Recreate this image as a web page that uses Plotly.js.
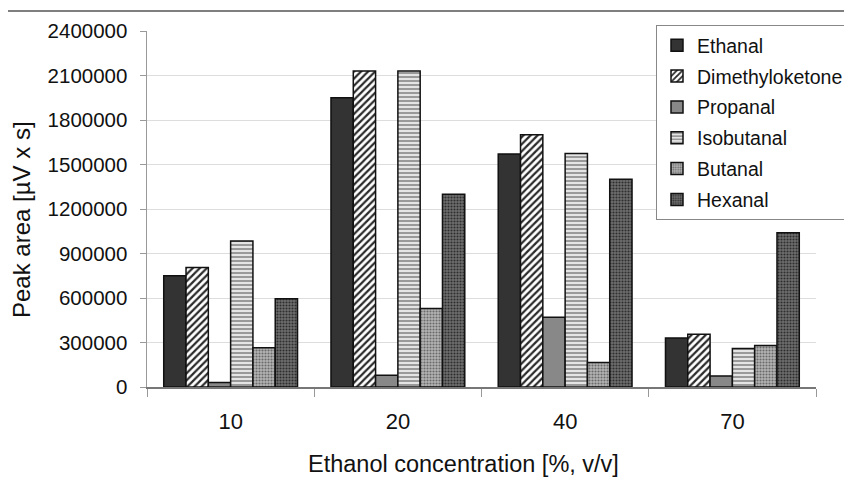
<!DOCTYPE html>
<html>
<head>
<meta charset="utf-8">
<script src="https://cdn.plot.ly/plotly-3.0.1.min.js"></script>
<style>html,body{margin:0;padding:0;background:#fff;}#chart{width:844px;height:479px;}</style>
</head>
<body>
<div id="chart"></div>
<script>
const categories = ["10", "20", "40", "70"];
const seriesNames = ["Ethanal", "Dimethyloketone", "Propanal", "Isobutanal", "Butanal", "Hexanal"];
const ethanal = [750000, 1950000, 1570000, 330000];
const dimethyloketone = [805000, 2130000, 1700000, 355000];
const propanal = [30000, 80000, 470000, 75000];
const isobutanal = [985000, 2130000, 1575000, 260000];
const butanal = [265000, 530000, 165000, 280000];
const hexanal = [595000, 1300000, 1400000, 1040000];
const yTickValues = [0, 300000, 600000, 900000, 1200000, 1500000, 1800000, 2100000, 2400000];
const xTitle = 'Ethanol concentration [%, v/v]';
const yTitle = 'Peak area [µV x s]';

const seriesValues = [ethanal, dimethyloketone, propanal, isobutanal, butanal, hexanal];
const styles = [
  {color: '#333333'},
  {color: '#ffffff', pattern: {shape: '/', fgcolor: '#2a2a2a', bgcolor: '#ffffff', size: 5, solidity: 0.45}},
  {color: '#888888'},
  {color: '#cccccc', pattern: {shape: '-', fgcolor: '#999999', bgcolor: '#e4e4e4', size: 4, solidity: 0.5}},
  {color: '#999999', pattern: {shape: '.', fgcolor: '#6a6a6a', bgcolor: '#b4b4b4', size: 3, solidity: 0.4}},
  {color: '#555555', pattern: {shape: '.', fgcolor: '#2e2e2e', bgcolor: '#6e6e6e', size: 3, solidity: 0.4}}
];

const traces = seriesNames.map((name, i) => {
  const m = {color: styles[i].color, line: {color: '#111111', width: 1.5}};
  if (styles[i].pattern) m.pattern = styles[i].pattern;
  return {type: 'bar', name: name, legendgroup: 'g' + i, x: categories, y: seriesValues[i], marker: m};
});

const FONT = 'Liberation Sans, Arial, sans-serif';
const L = 147, R = 816, T = 31, B = 387;
const px = v => (v - L) / (R - L);
const py = v => (B - v) / (B - T);

const layout = {
  width: 844, height: 479,
  margin: {l: L, r: 844 - R, t: T, b: 479 - B, pad: 0, autoexpand: false},
  paper_bgcolor: '#ffffff', plot_bgcolor: '#ffffff',
  barmode: 'group', bargap: 0.2, bargroupgap: 0,
  font: {family: FONT, color: '#111111'},
  showlegend: true,
  legend: {
    x: px(656), xanchor: 'left', y: py(25), yanchor: 'top',
    bgcolor: '#ffffff', bordercolor: '#888888', borderwidth: 1,
    font: {family: FONT, size: 19.5, color: '#111111'},
    itemwidth: 30, traceorder: 'grouped', tracegroupgap: 2.5
  },
  xaxis: {
    type: 'category',
    tickson: 'boundaries', ticks: 'outside', ticklen: 8, tickcolor: '#999999', tickwidth: 1,
    showline: true, linecolor: '#777777', linewidth: 1.5,
    tickfont: {family: FONT, size: 22, color: '#111111'},
    ticklabelstandoff: 14,
    showgrid: false,
    automargin: false, fixedrange: true
  },
  yaxis: {
    range: [0, 2400000], tickmode: 'array', tickvals: yTickValues,
    ticktext: yTickValues.map(v => String(v)),
    ticks: 'outside', ticklen: 6, tickcolor: '#999999', tickwidth: 1,
    showline: true, linecolor: '#999999', linewidth: 1.5,
    showgrid: true, gridcolor: '#dddddd', gridwidth: 1,
    zeroline: false,
    tickfont: {family: FONT, size: 20.5, color: '#111111'},
    ticklabelstandoff: 8,
    automargin: false, fixedrange: true
  },
  annotations: [
    {text: xTitle, xref: 'paper', yref: 'paper', x: px(463), y: py(464), xanchor: 'center', yanchor: 'middle',
     showarrow: false, font: {family: FONT, size: 23.5, color: '#111111'}},
    {text: yTitle, xref: 'paper', yref: 'paper', x: px(21), y: py(220), xanchor: 'center', yanchor: 'middle',
     textangle: -90, showarrow: false, font: {family: FONT, size: 24, color: '#111111'}}
  ],
  shapes: [{
    type: 'line', xref: 'paper', yref: 'paper',
    x0: px(8), x1: px(844), y0: py(11), y1: py(11),
    line: {color: '#555555', width: 1.5}
  }]
};

Plotly.newPlot('chart', traces, layout, {displayModeBar: false, staticPlot: true});
</script>
</body>
</html>
